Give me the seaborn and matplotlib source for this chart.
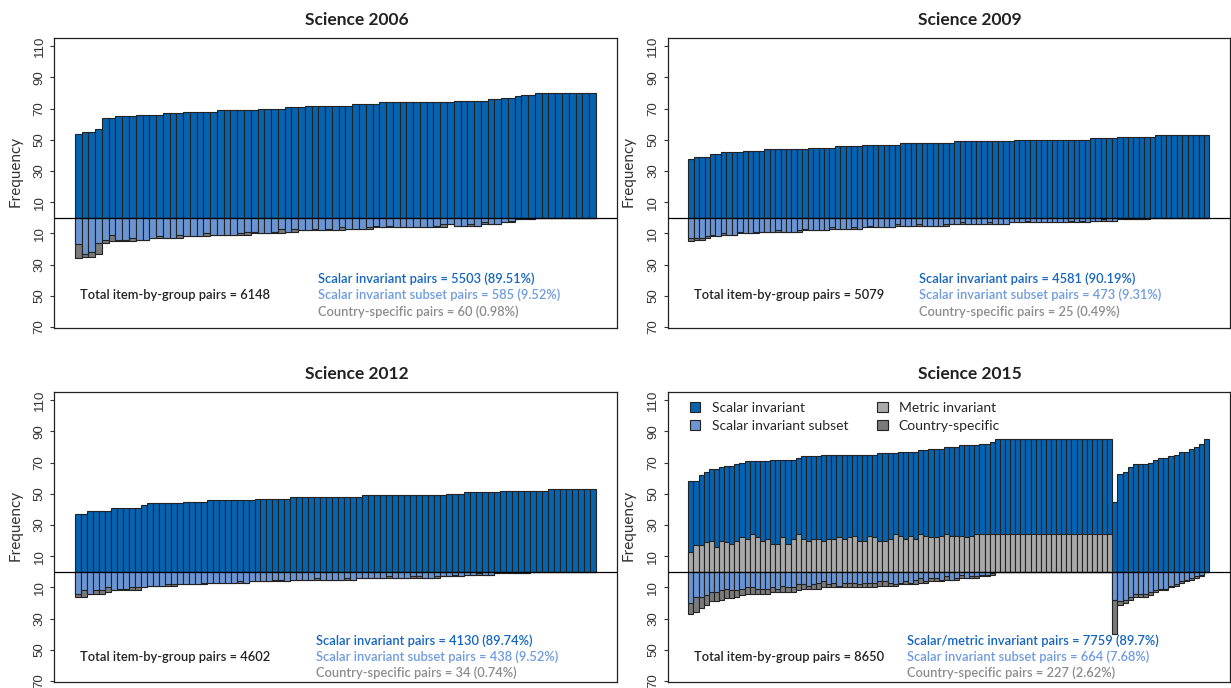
import numpy as np
import pandas as pd
import matplotlib
matplotlib.use("Agg")
import matplotlib.pyplot as plt
import matplotlib.transforms as mtransforms
from matplotlib.patches import Patch
import seaborn as sns

# ---------------------------------------------------------------- data
# per item: scalar (incl. metric in 2015) above zero, subset + country below zero

top06 = [54, 55, 55, 57, 64, 64, 65, 65, 65, 66, 66, 66, 66, 67, 67, 67, 68, 68, 68, 68,
         68, 69, 69, 69, 69, 69, 69, 70, 70, 70, 70, 71, 71, 71, 72, 72, 72, 72, 72, 72,
         72, 73, 73, 73, 73, 74, 74, 74, 74, 74, 74, 74, 74, 74, 74, 74, 75, 75, 75, 75,
         75, 76, 76, 77, 77, 78, 79, 79, 80, 80, 80, 80, 80, 80, 80, 80, 80]
sub06 = [17, 23, 22, 16, 14, 11, 14, 14, 13, 14, 14, 13, 12, 13, 13, 11, 12, 12, 12, 10,
         11, 11, 11, 11, 10, 9, 9, 10, 10, 9, 7, 9, 7, 8, 8, 7, 8, 7, 8, 6,
         7, 7, 7, 6, 5, 6, 5, 6, 6, 6, 6, 6, 6, 5, 4, 4, 5, 5, 4, 5,
         3, 4, 4, 3, 2, 1, 0, 1, 0, 0, 0, 0, 0, 0, 0, 0, 0]
cty06 = [9, 2, 3, 7, 2, 4, 1, 1, 2, 0, 0, 0, 1, 0, 0, 2, 0, 0, 0, 2,
         0, 0, 0, 0, 1, 2, 1, 0, 0, 1, 3, 0, 2, 0, 0, 1, 0, 1, 0, 2,
         0, 0, 0, 1, 1, 0, 1, 0, 0, 0, 0, 0, 0, 1, 2, 0, 0, 0, 1, 0,
         1, 0, 0, 0, 1, 0, 1, 0, 0, 0, 0, 0, 0, 0, 0, 0, 0]

top09 = [38, 39, 39, 39, 41, 41, 42, 42, 42, 42, 43, 43, 43, 43, 44, 44, 44, 44, 44, 44,
         44, 44, 45, 45, 45, 45, 45, 46, 46, 46, 46, 46, 47, 47, 47, 47, 47, 47, 47, 48,
         48, 48, 48, 48, 48, 48, 48, 48, 48, 49, 49, 49, 49, 49, 49, 49, 49, 49, 49, 49,
         50, 50, 50, 50, 50, 50, 50, 50, 50, 50, 50, 50, 50, 50, 51, 51, 51, 51, 51, 52,
         52, 52, 52, 52, 52, 52, 53, 53, 53, 53, 53, 53, 53, 53, 53, 53]
sub09 = [13, 13, 13, 12, 11, 12, 10, 11, 11, 9, 10, 10, 9, 9, 9, 9, 8, 9, 9, 9,
         8, 7, 8, 8, 8, 8, 6, 7, 7, 7, 6, 7, 6, 5, 6, 6, 6, 6, 4, 5,
         5, 5, 4, 5, 5, 5, 5, 4, 4, 4, 3, 4, 4, 4, 4, 3, 4, 4, 4, 3,
         3, 3, 2, 3, 3, 3, 3, 3, 3, 3, 2, 3, 2, 3, 2, 2, 1, 2, 2, 0,
         1, 1, 1, 1, 1, 0, 0, 0, 0, 0, 0, 0, 0, 0, 0, 0]
cty09 = [2, 1, 1, 1, 1, 0, 1, 0, 0, 1, 0, 0, 1, 0, 0, 0, 1, 0, 0, 0,
         1, 1, 0, 0, 0, 0, 1, 0, 0, 0, 1, 0, 0, 1, 0, 0, 0, 0, 1, 0,
         0, 0, 1, 0, 0, 0, 0, 1, 0, 0, 1, 0, 0, 0, 0, 1, 0, 0, 0, 0,
         0, 0, 1, 0, 0, 0, 0, 0, 0, 0, 1, 0, 1, 0, 0, 0, 1, 0, 0, 1,
         0, 0, 0, 0, 0, 0, 0, 0, 0, 0, 0, 0, 0, 0, 0, 0]

top12 = [37, 37, 39, 39, 39, 39, 41, 41, 41, 41, 41, 43, 44, 44, 44, 44, 44, 44, 45, 45,
         45, 45, 46, 46, 46, 46, 46, 46, 46, 46, 47, 47, 47, 47, 47, 47, 48, 48, 48, 48,
         48, 48, 48, 48, 48, 48, 48, 48, 49, 49, 49, 49, 49, 49, 49, 49, 49, 49, 49, 49,
         49, 49, 50, 50, 50, 51, 51, 51, 51, 51, 51, 52, 52, 52, 52, 52, 52, 52, 52, 53,
         53, 53, 53, 53, 53, 53, 53]
sub12 = [14, 12, 14, 12, 12, 10, 12, 11, 11, 10, 10, 10, 9, 9, 9, 8, 8, 8, 8, 8,
         8, 7, 7, 7, 7, 7, 7, 6, 7, 6, 6, 6, 6, 5, 5, 6, 5, 5, 5, 5,
         4, 5, 5, 5, 5, 4, 5, 4, 4, 4, 4, 4, 3, 4, 4, 4, 3, 3, 4, 4,
         3, 3, 3, 2, 3, 2, 2, 1, 2, 2, 1, 0, 0, 1, 1, 1, 0, 0, 0, 0,
         0, 0, 0, 0, 0, 0, 0]
cty12 = [2, 4, 0, 2, 2, 3, 0, 1, 1, 2, 2, 0, 0, 0, 0, 1, 1, 0, 0, 0,
         0, 1, 0, 0, 0, 0, 0, 1, 0, 0, 0, 0, 0, 1, 1, 0, 0, 0, 0, 0,
         1, 0, 0, 0, 0, 1, 0, 0, 0, 0, 0, 0, 1, 0, 0, 0, 1, 1, 0, 0,
         1, 0, 0, 1, 0, 0, 0, 1, 0, 0, 0, 1, 1, 0, 0, 0, 0, 0, 0, 0,
         0, 0, 0, 0, 0, 0, 0]

top15 = [58, 58, 62, 64, 66, 66, 67, 68, 68, 69, 70, 71, 71, 71, 71, 71, 72, 72, 72, 72,
         72, 73, 74, 74, 74, 74, 75, 75, 75, 75, 75, 75, 75, 75, 75, 75, 75, 76, 76, 76,
         76, 77, 77, 77, 77, 78, 78, 79, 79, 79, 80, 80, 80, 81, 81, 81, 81, 82, 82, 83,
         85, 85, 85, 85, 85, 85, 85, 85, 85, 85, 85, 85, 85, 85, 85, 85, 85, 85, 85, 85,
         85, 85, 85, 45, 63, 64, 67, 69, 69, 69, 70, 72, 73, 73, 74, 75, 77, 77, 79, 80,
         82, 85]
met15 = [13, 17, 17, 19, 20, 16, 20, 19, 18, 20, 22, 21, 24, 22, 20, 21, 18, 18, 22, 18,
         21, 24, 21, 20, 21, 21, 20, 21, 21, 22, 21, 22, 23, 20, 20, 23, 22, 20, 20, 21,
         24, 23, 21, 23, 21, 24, 23, 22, 22, 23, 24, 23, 23, 23, 22, 23, 24, 24, 24, 24,
         24, 24, 24, 24, 24, 24, 24, 24, 24, 24, 24, 24, 24, 24, 24, 24, 24, 24, 24, 24,
         24, 24, 24, 0, 0, 0, 0, 0, 0, 0, 0, 0, 0, 0, 0, 0, 0, 0, 0, 0,
         0, 0]
sub15 = [20, 16, 16, 15, 13, 13, 12, 11, 12, 12, 11, 10, 10, 11, 11, 11, 10, 11, 9, 10,
         10, 8, 8, 9, 8, 7, 6, 8, 7, 9, 7, 7, 7, 8, 7, 7, 7, 6, 6, 7,
         8, 7, 6, 7, 5, 4, 6, 4, 4, 5, 3, 5, 4, 2, 4, 3, 3, 2, 2, 1,
         0, 0, 0, 0, 0, 0, 0, 0, 0, 0, 0, 0, 0, 0, 0, 0, 0, 0, 0, 0,
         0, 0, 0, 18, 19, 18, 16, 14, 14, 14, 13, 12, 11, 11, 9, 8, 6, 5, 4, 3,
         2, 0]
cty15 = [7, 10, 7, 6, 6, 6, 6, 6, 5, 4, 4, 4, 4, 3, 3, 3, 3, 2, 4, 3,
         3, 4, 3, 2, 3, 4, 4, 2, 3, 1, 3, 3, 3, 2, 3, 3, 3, 3, 3, 2,
         1, 1, 2, 1, 3, 3, 1, 2, 2, 1, 2, 0, 1, 2, 0, 1, 1, 1, 1, 1,
         0, 0, 0, 0, 0, 0, 0, 0, 0, 0, 0, 0, 0, 0, 0, 0, 0, 0, 0, 0,
         0, 0, 0, 22, 2, 2, 2, 2, 2, 2, 2, 1, 1, 1, 1, 1, 1, 1, 1, 1,
         1, 0]

titles = ["Science 2006", "Science 2009", "Science 2012", "Science 2015"]
totals = [6148, 5079, 4602, 8650]
notes = [
    ["Scalar invariant pairs = 5503 (89.51%)",
     "Scalar invariant subset pairs = 585 (9.52%)",
     "Country-specific pairs = 60 (0.98%)"],
    ["Scalar invariant pairs = 4581 (90.19%)",
     "Scalar invariant subset pairs = 473 (9.31%)",
     "Country-specific pairs = 25 (0.49%)"],
    ["Scalar invariant pairs = 4130 (89.74%)",
     "Scalar invariant subset pairs = 438 (9.52%)",
     "Country-specific pairs = 34 (0.74%)"],
    ["Scalar/metric invariant pairs = 7759 (89.7%)",
     "Scalar invariant subset pairs = 664 (7.68%)",
     "Country-specific pairs = 227 (2.62%)"],
]

c_scalar = "#0563b0"
c_subset = "#6b94d2"
c_metric = "#a9a9a9"
c_country = "#7a7a7a"
c_edge = "#222222"
txt_cols = ["#1565c0", "#6f9be0", "#8c8c8c"]

sns.set_theme(style="white")
plt.rcParams["font.family"] = ["Lato", "DejaVu Sans"]

W, H = 1231, 688
fig = plt.figure(figsize=(W / 100, H / 100), dpi=100)

# axes boxes in pixels: (left, top)
boxes = [(54, 37.7), (667.5, 37.7), (54, 391.7), (667.5, 391.7)]
bw, bh = 562.7, 290

panels = [
    (top06, None, sub06, cty06),
    (top09, None, sub09, cty09),
    (top12, None, sub12, cty12),
    (top15, met15, sub15, cty15),
]
text_x = [(0.046, 0.469), (0.047, 0.447), (0.046, 0.466), (0.047, 0.426)]

for i, (top, met, sub, cty) in enumerate(panels):
    l, t = boxes[i]
    ax = fig.add_axes([l / W, (H - t - bh) / H, bw / W, bh / H])

    n = len(top)
    df = pd.DataFrame({"item": np.arange(n), "top": top,
                       "sub": -np.array(sub),
                       "down": -(np.array(sub) + np.array(cty))})
    if met is not None:
        df["met"] = met

    # stacked look: longer bar first, shorter part drawn over it
    bar_kw = dict(width=1, saturation=1, edgecolor=c_edge, linewidth=0.8,
                  errorbar=None, ax=ax)
    sns.barplot(data=df, x="item", y="top", color=c_scalar, **bar_kw)
    if met is not None:
        sns.barplot(data=df, x="item", y="met", color=c_metric, **bar_kw)
    sns.barplot(data=df, x="item", y="down", color=c_country, **bar_kw)
    sns.barplot(data=df, x="item", y="sub", color=c_subset, **bar_kw)

    ax.axhline(0, color="black", lw=0.9, zorder=5)
    ax.set_xlim(-0.5 - 0.04 * n, n - 0.5 + 0.04 * n)
    ax.set_ylim(-70.5, 115.5)
    ax.set_xticks([])
    ax.set_xlabel("")

    yt = [-70, -50, -30, -10, 10, 30, 50, 70, 90, 110]
    ax.set_yticks(yt)
    ax.set_yticklabels([str(abs(v)) for v in yt], rotation=90, va="center",
                       fontfamily="Liberation Sans", fontsize=9.5, color="#333333")
    ax.tick_params(axis="y", direction="out", length=3, width=0.8,
                   color="#333333", pad=3, left=True)
    for s in ax.spines.values():
        s.set_color("#222222")
        s.set_linewidth(0.9)

    ax.set_ylabel("Frequency", fontsize=11, color="#333333")
    ax.yaxis.set_label_coords(-0.056, 0.54)
    ax.set_title(titles[i], x=0.538, pad=9, fontsize=12.5, fontweight="bold",
                 color="#222222")

    tr = mtransforms.blended_transform_factory(ax.transAxes, ax.transData)
    dy = 0 if i < 2 else -5
    tx0, tx1 = text_x[i]
    ax.text(tx0, -49.5 + dy, f"Total item-by-group pairs = {totals[i]}",
            transform=tr, va="center", ha="left", fontsize=9.3,
            fontweight="semibold", color="#222222")
    for j, (line, col) in enumerate(zip(notes[i], txt_cols)):
        ax.text(tx1, -39 + dy - 10.5 * j, line, transform=tr, va="center",
                ha="left", fontsize=9.3, fontweight="semibold", color=col)

    if met is not None:
        handles = [Patch(facecolor=c_scalar, edgecolor=c_edge, lw=0.8),
                   Patch(facecolor=c_subset, edgecolor=c_edge, lw=0.8),
                   Patch(facecolor=c_metric, edgecolor=c_edge, lw=0.8),
                   Patch(facecolor=c_country, edgecolor=c_edge, lw=0.8)]
        labels = ["Scalar invariant", "Scalar invariant subset",
                  "Metric invariant", "Country-specific"]
        ax.legend(handles, labels, ncol=2, loc="upper left",
                  bbox_to_anchor=(0.035, 0.975), frameon=False, fontsize=10,
                  handlelength=0.75, handleheight=0.75, handletextpad=0.8,
                  columnspacing=2.1, labelspacing=0.45, borderaxespad=0,
                  borderpad=0.2)

fig.savefig("out.png", dpi=100)
